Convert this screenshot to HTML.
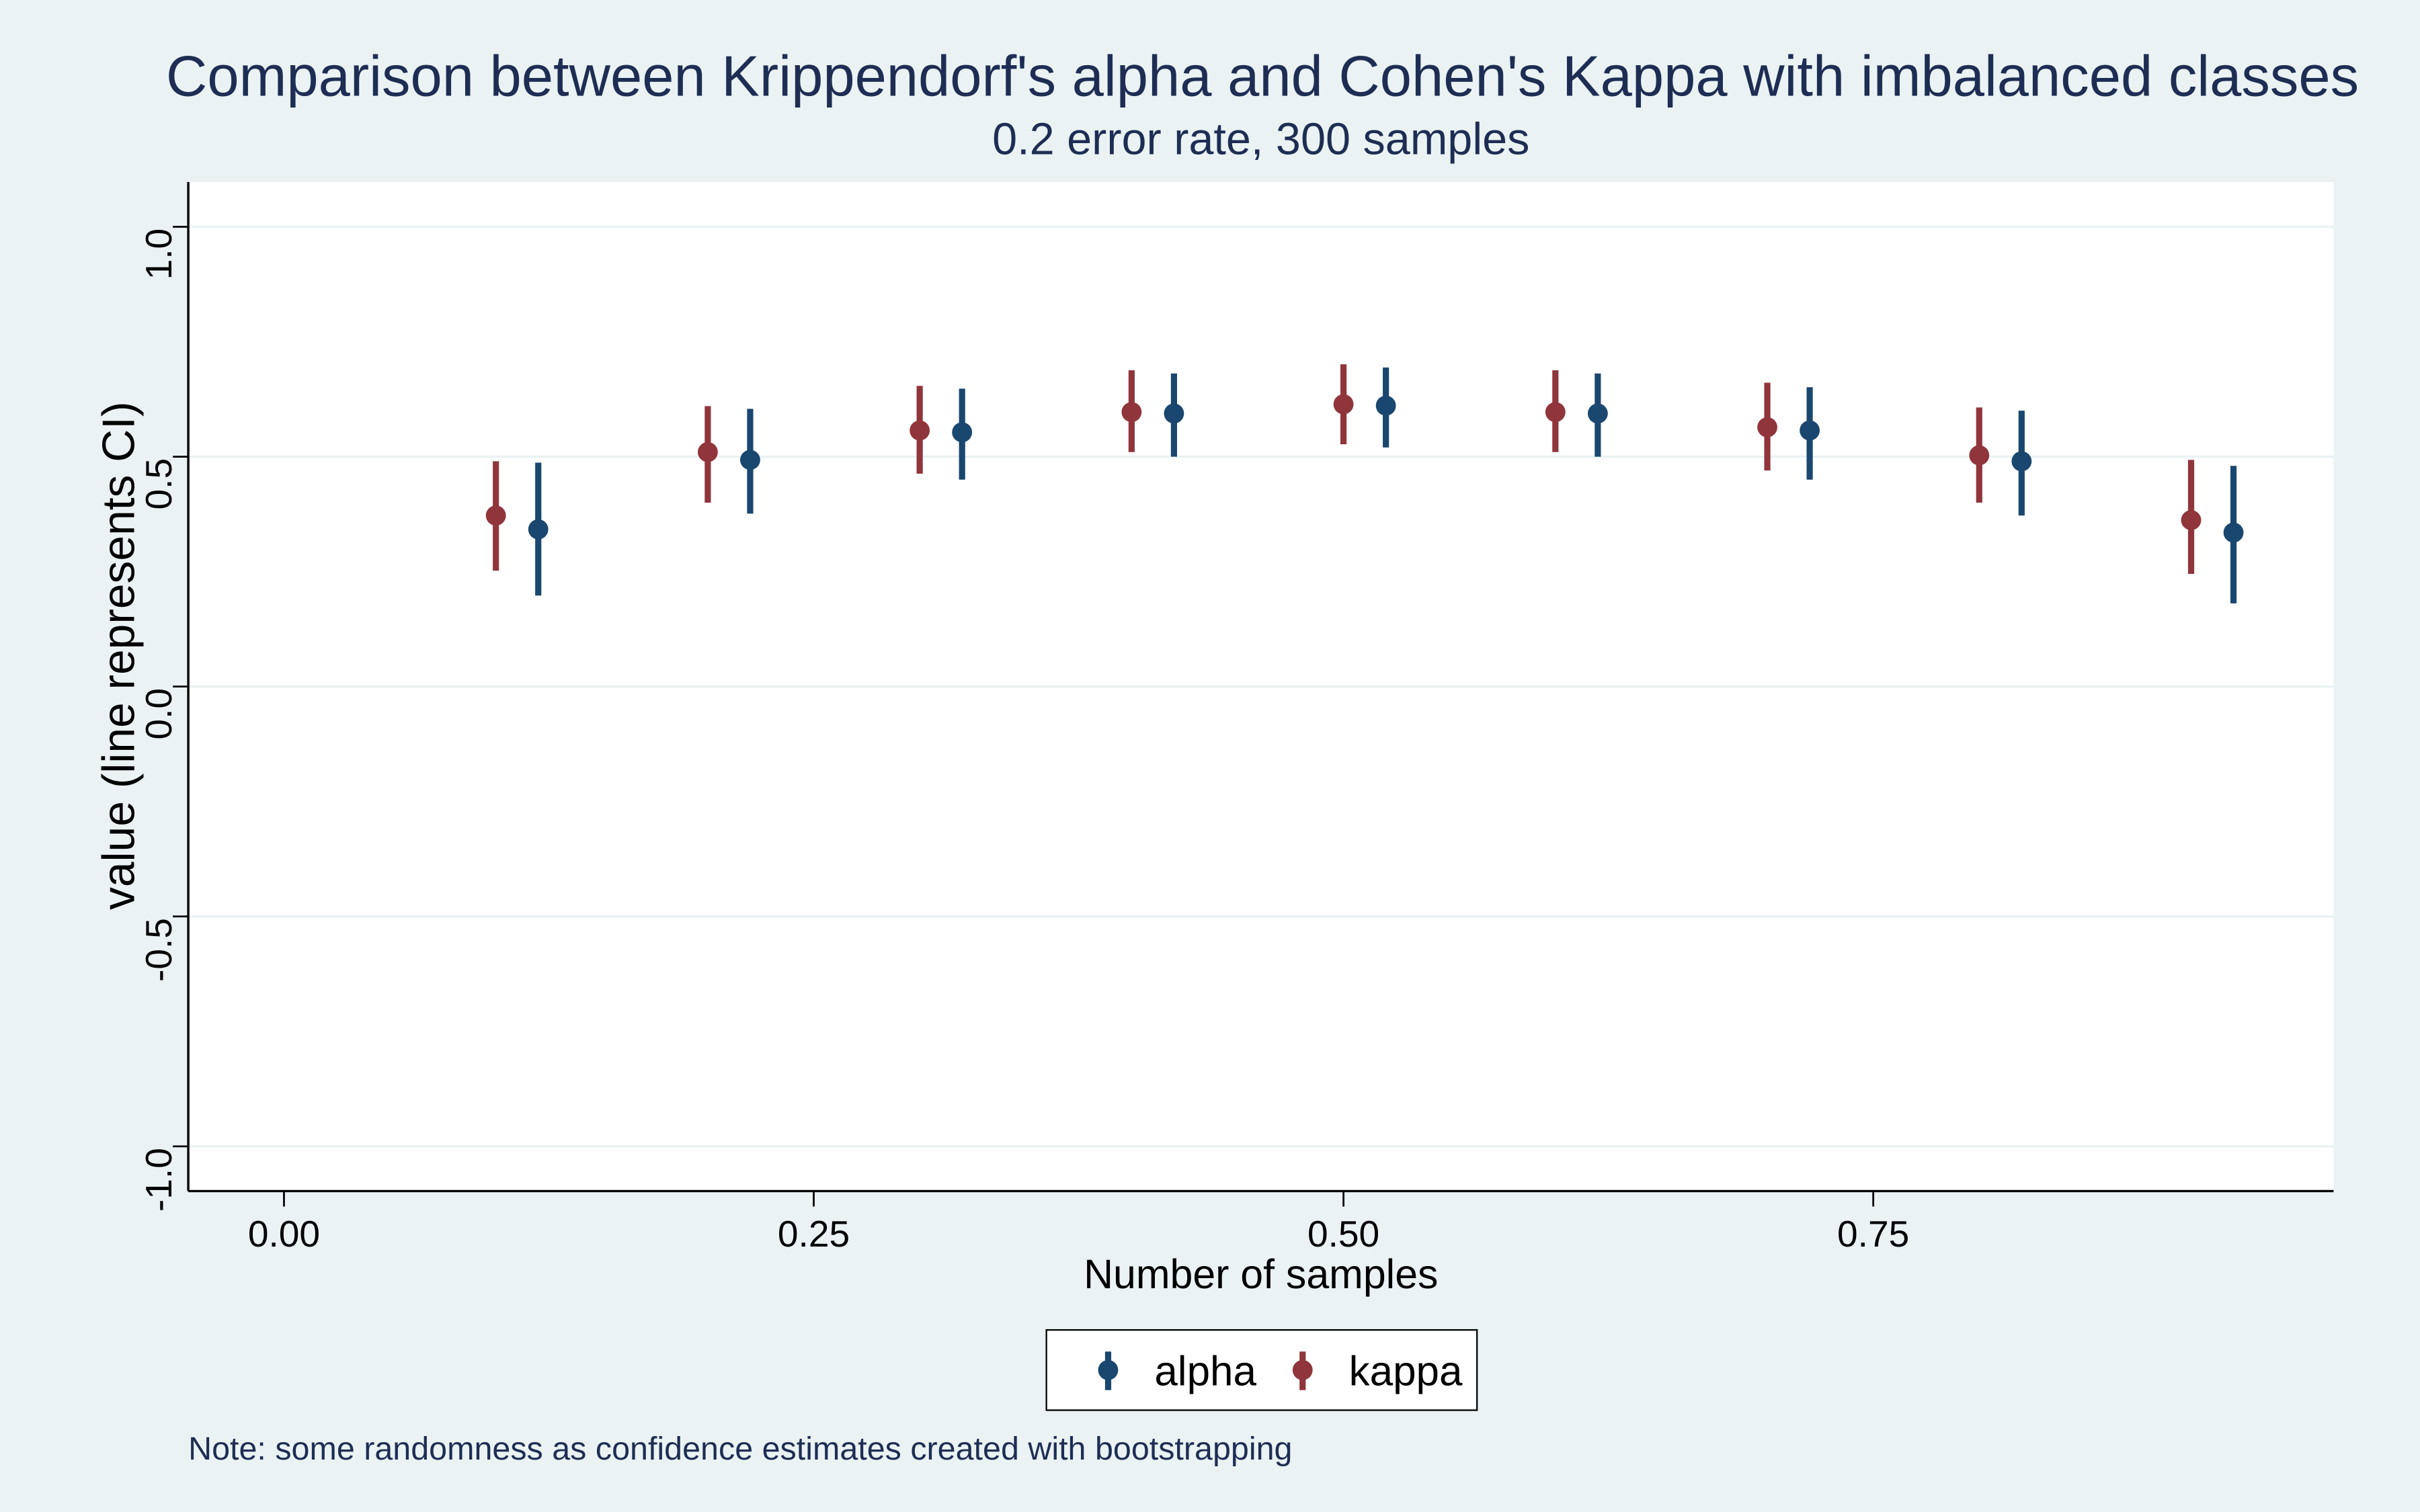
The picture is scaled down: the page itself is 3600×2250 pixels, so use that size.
<!DOCTYPE html>
<html><head><meta charset="utf-8"><style>
html,body{margin:0;padding:0;background:#eaf2f3;}
svg{display:block;font-family:"Liberation Sans",Arial,sans-serif;}
</style></head><body>
<svg id="chart" width="3600" height="2250" viewBox="0 0 1568 980" xmlns="http://www.w3.org/2000/svg">
<rect x="0" y="0" width="1568" height="980" fill="#eaf2f3"/>
<text x="818" y="62" text-anchor="middle" font-size="37" fill="#1e2d53">Comparison between Krippendorf's alpha and Cohen's Kappa with imbalanced classes</text>
<text x="817" y="100" text-anchor="middle" font-size="29" fill="#1e2d53">0.2 error rate, 300 samples</text>
<rect x="122" y="118" width="1390" height="654" fill="#ffffff"/>
<g id="grid"></g>
<line x1="122" y1="118" x2="122" y2="772" stroke="#000" stroke-width="1.5"/>
<line x1="122" y1="772" x2="1512" y2="772" stroke="#000" stroke-width="1.5"/>
<g id="ticks"></g>
<g id="marks"></g>
<text transform="translate(87,425) rotate(-90)" text-anchor="middle" font-size="29.5" fill="#000">value (line represents CI)</text>
<text x="817" y="835" text-anchor="middle" font-size="26.5" fill="#000">Number of samples</text>
<g>
<rect x="678" y="862" width="279" height="52" fill="#fff" stroke="#000" stroke-width="1"/>
<g>
<line x1="718" y1="876" x2="718" y2="901" stroke="#1a476f" stroke-width="4"/><circle cx="718" cy="888" r="6.5" fill="#1a476f"/>
<text x="748" y="898" font-size="27" fill="#000">alpha</text></g>
<g>
<line x1="844" y1="876" x2="844" y2="901" stroke="#90353b" stroke-width="4"/><circle cx="844" cy="888" r="6.5" fill="#90353b"/>
<text x="874" y="898" font-size="27" fill="#000">kappa</text></g>
</g>
<text x="122" y="946" font-size="21.1" fill="#1e2d53">Note: some randomness as confidence estimates created with bootstrapping</text>
</svg>
<script>
const xCats = [0.1,0.2,0.3,0.4,0.5,0.6,0.7,0.8,0.9];
const alphaOffset = 0.02;
const kappaVal = [0.372,0.51,0.557,0.597,0.614,0.597,0.564,0.503,0.362];
const kappaLo  = [0.252,0.40,0.463,0.51,0.527,0.51,0.47,0.40,0.245];
const kappaHi  = [0.49,0.61,0.654,0.688,0.701,0.688,0.661,0.607,0.493];
const alphaVal = [0.342,0.493,0.553,0.594,0.611,0.594,0.557,0.49,0.335];
const alphaLo  = [0.198,0.376,0.45,0.5,0.52,0.5,0.45,0.372,0.181];
const alphaHi  = [0.487,0.604,0.648,0.681,0.694,0.681,0.651,0.6,0.48];
const yTicks = [1.0,0.5,0.0,-0.5,-1.0];
const yTickLabels = ["1.0","0.5","0.0","-0.5","-1.0"];
const xTicks = [0,0.25,0.5,0.75];
const xTickLabels = ["0.00","0.25","0.50","0.75"];

const NS="http://www.w3.org/2000/svg";
const sx = v => 184 + v*1373;
const sy = v => 445 - v*298;
function mk(tag, attrs, parent){const e=document.createElementNS(NS,tag);for(const k in attrs)e.setAttribute(k,attrs[k]);parent.appendChild(e);return e;}
const grid=document.getElementById('grid'), ticks=document.getElementById('ticks'), marks=document.getElementById('marks');
yTicks.forEach((t,i)=>{
  const g=mk('line',{x1:122,x2:1512,y1:sy(t),y2:sy(t),stroke:'#eaf2f3','stroke-width':1.5},grid);
  
  
  const tk=mk('line',{x1:112,x2:122,y1:sy(t),y2:sy(t),stroke:'#000','stroke-width':1.2},ticks);
  
  
  const tx=mk('text',{transform:`translate(111,${sy(t)+1}) rotate(-90)`,'text-anchor':'end','font-size':24,fill:'#000'},ticks);
  tx.textContent=yTickLabels[i];
  
  
});
xTicks.forEach((t,i)=>{
  const tk=mk('line',{x1:sx(t),x2:sx(t),y1:772,y2:782,stroke:'#000','stroke-width':1.2},ticks);
  
  
  const tx=mk('text',{x:sx(t),y:808,'text-anchor':'middle','font-size':24,fill:'#000'},ticks);
  tx.textContent=xTickLabels[i];
  
  
});
function series(vals,lo,hi,off,color,name){
  xCats.forEach((x,i)=>{
    const X=sx(x+off);
    const l=mk('line',{x1:X,x2:X,y1:sy(lo[i]),y2:sy(hi[i]),stroke:color,'stroke-width':4},marks);
    
    
    const c=mk('circle',{cx:X,cy:sy(vals[i]),r:6.5,fill:color},marks);
    
    
  });
}
series(kappaVal,kappaLo,kappaHi,0,'#90353b','kappa');
series(alphaVal,alphaLo,alphaHi,alphaOffset,'#1a476f','alpha');
</script>
</body></html>
